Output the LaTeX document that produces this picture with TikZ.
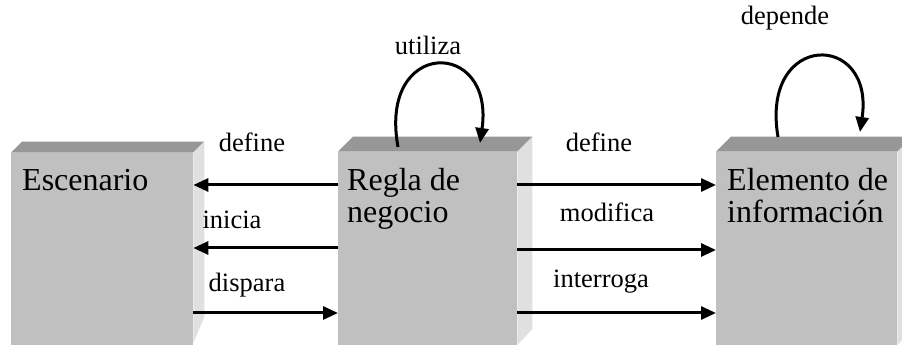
\documentclass[tikz,border=0pt]{standalone}
\usepackage{xcolor}
\usepackage{fontspec}
\setmainfont{Liberation Serif}
\usetikzlibrary{arrows.meta,positioning,calc}
\definecolor{frente}{HTML}{C0C0C0}
\definecolor{tapa}{HTML}{979797}
\definecolor{lado}{HTML}{E0E0E0}

\begin{document}
\begin{tikzpicture}[
				x = 1pt, y = 1pt,
				caja/.style = {fill = frente, inner sep = 0pt, anchor = south west},
				flecha/.style = {line width = 3pt, -{Triangle[length=15pt,width=13pt]}},
				etiqueta/.style = {font = \fontsize{26.5}{28}\selectfont, inner sep = 0pt},
				titulo/.style = {font = \fontsize{32}{32}\selectfont, align = left, anchor = north west, inner sep = 0pt}
				]
				\useasboundingbox (0,0) rectangle (902,345);
				% cajas
				\node [caja, minimum width = 182pt, minimum height = 200pt] (esc) at (11,-8) {};
				\node [caja, minimum width = 179pt, minimum height = 201pt] (reg) at (338,-8) {};
				\node [caja, minimum width = 181pt, minimum height = 201pt] (ele) at (716,-8) {};
				
				\fill [tapa] (esc.north west) -- ($(esc.north west)+(11,11)$) -- ($(esc.north east)+(11,11)$) -- (esc.north east) -- cycle;
				\fill [lado] (esc.north east) -- ($(esc.north east)+(11,11)$) -- ($(esc.south east)+(11,36)$) -- ($(esc.south east)+(0,10)$) -- cycle;
				\fill [tapa] (reg.north west) -- ($(reg.north west)+(15,15)$) -- ($(reg.north east)+(15,15)$) -- (reg.north east) -- cycle;
				\fill [lado] (reg.north east) -- ($(reg.north east)+(15,15)$) -- ($(reg.south east)+(15,24)$) -- ($(reg.south east)+(0,8)$) -- cycle;
				\fill [tapa] (ele.north west) -- ($(ele.north west)+(15,15)$) -- ($(ele.north east)+(15,15)$) -- (ele.north east) -- cycle;
				\fill [lado] (ele.north east) -- ($(ele.north east)+(15,15)$) -- ($(ele.south east)+(15,24)$) -- ($(ele.south east)+(0,8)$) -- cycle;
				
				\node [titulo] (tesc) at (22,176) {Escenario};
				\node [titulo] (treg) at (347,177) {Regla de\\negocio};
				\node [titulo] (tele) at (727,177) {Elemento de\\información};
				
				% relaciones
				\draw [flecha] (reg.west |- 0,160) -- (esc.east |- 0,160);
				\draw [flecha] (reg.west |- 0,97) -- (esc.east |- 0,97);
				\draw [flecha] (esc.east |- 0,32) -- (reg.west |- 0,32);
				\draw [flecha] (reg.east |- 0,160) -- (ele.west |- 0,160);
				\draw [flecha] (reg.east |- 0,95) -- (ele.west |- 0,95);
				\draw [flecha] (reg.east |- 0,32) -- (ele.west |- 0,32);
				
				\node [etiqueta] (l1) at (252,203) {define};
				\node [etiqueta] (l2) at (232,125) {inicia};
				\node [etiqueta] (l3) at (247,60) {dispara};
				\node [etiqueta] (r1) at (599,203) {define};
				\node [etiqueta] (r2) at (607,133) {modifica};
				\node [etiqueta] (r3) at (601,63) {interroga};
				
				% lazos
				\coordinate (u1) at (398,198);
				\coordinate (u2) at (480,202);
				\draw [flecha] (u1) .. controls +(-20,109) and +(15,105) .. (u2);
				\node [etiqueta] (utiliza) at (428,300) {utiliza};
				
				\coordinate (d1) at (778,208);
				\coordinate (d2) at (860,213);
				\draw [flecha] (d1) .. controls +(-18,106) and +(15,101) .. (d2);
				\node [etiqueta] (depende) at (785,327) {depende};
			\end{tikzpicture}
\end{document}
